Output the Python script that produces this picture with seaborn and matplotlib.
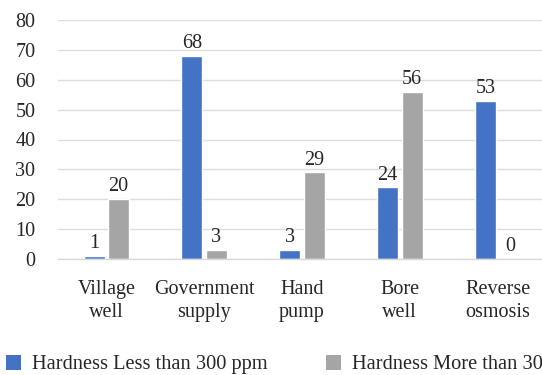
import matplotlib
matplotlib.use("Agg")
import matplotlib.pyplot as plt
import seaborn as sns
import pandas as pd
from matplotlib.patches import Patch

categories = ["Village\nwell", "Government\nsupply", "Hand\npump", "Bore\nwell", "Reverse\nosmosis"]
series_names = ["Hardness Less than 300 ppm", "Hardness More than 300 ppm"]
less_300 = [1, 68, 3, 24, 53]
more_300 = [20, 3, 29, 56, 0]
y_ticks = [0, 10, 20, 30, 40, 50, 60, 70, 80]

colors = ["#4472C4", "#A5A5A5"]

df = pd.DataFrame({
    "category": categories * 2,
    "series": [series_names[0]] * len(categories) + [series_names[1]] * len(categories),
    "value": less_300 + more_300,
})

sns.set_theme(style="white")
plt.rcParams["font.family"] = ["Liberation Serif", "DejaVu Serif"]
FS = 14.5
LFS = 14.7
TXT = "#262626"

fig = plt.figure(figsize=(5.42, 3.75), dpi=100)
W, H = 542, 375
ax_left, ax_right, ax_top, ax_bottom = 57.5, 546.5, 20, 259
ax = fig.add_axes([ax_left / W, 1 - ax_bottom / H, (ax_right - ax_left) / W, (ax_bottom - ax_top) / H])

sns.barplot(data=df, x="category", y="value", hue="series", palette=colors,
            width=0.5, gap=0.14, ax=ax, legend=False, saturation=1)

ax.set_ylim(0, 80)
ax.set_yticks(y_ticks)
ax.set_xlim(-0.5, len(categories) - 0.5)
ax.yaxis.grid(True, color="#DDDDDD", linewidth=1.0)
ax.set_axisbelow(True)
for s in ["left", "right", "top"]:
    ax.spines[s].set_visible(False)
ax.spines["bottom"].set_color("#D9D9D9")
ax.spines["bottom"].set_linewidth(1.0)
ax.set_xlabel("")
ax.set_ylabel("")
ax.tick_params(axis="y", length=0, pad=16, labelsize=FS, labelcolor=TXT)
ax.tick_params(axis="x", length=0, pad=15, labelsize=FS, labelcolor=TXT)
for lbl in ax.get_xticklabels():
    lbl.set_linespacing(1.3)

for cont in ax.containers:
    ax.bar_label(cont, fmt="%d", padding=2, fontsize=FS, color=TXT)

px = LFS * 100 / 72.0
handles = [Patch(facecolor=c, edgecolor="none") for c in colors]
fig.legend(handles, series_names, loc="center left", bbox_to_anchor=(6 / W, 1 - 364.5 / H),
           ncol=2, frameon=False, fontsize=LFS, borderpad=0, borderaxespad=0,
           handlelength=15 / px, handleheight=15 / px, handletextpad=11 / px,
           columnspacing=58 / px, labelcolor=TXT)

fig.savefig("out.png", dpi=100)
